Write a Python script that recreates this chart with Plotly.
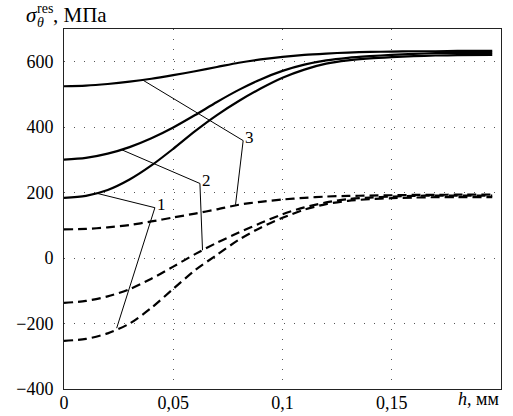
import plotly.graph_objects as go

# ---- data ----
h = [0, 0.01, 0.02, 0.03, 0.04, 0.05, 0.06, 0.07, 0.08, 0.09, 0.10,
     0.11, 0.12, 0.13, 0.14, 0.15, 0.16, 0.17, 0.18, 0.196]

solid_3 = [525, 527, 532, 539, 548, 559, 571, 584, 597, 607, 615,
           621, 625, 628, 630, 631, 632, 632, 633, 633]
solid_2 = [301, 306, 319, 339, 366, 399, 437, 477, 514, 546, 572,
           591, 604, 612, 617, 621, 624, 626, 627, 627]
solid_1 = [184, 190, 208, 240, 283, 334, 388, 437, 480, 518, 551,
           576, 594, 604, 610, 614, 617, 619, 620, 621]

dashed_3 = [88, 89, 94, 101, 112, 124, 136, 149, 163, 172, 179,
            184, 188, 190, 191, 192, 193, 193, 194, 194]
dashed_2 = [-137, -131, -117, -95, -63, -26, 12, 47, 78, 107, 134,
            155, 170, 180, 185, 188, 190, 191, 191, 191]
dashed_1 = [-253, -247, -230, -200, -152, -94, -37, 10, 56, 93, 123,
            148, 165, 175, 180, 183, 185, 186, 186, 186]

# leader lines: label junction, point on solid curve, point on dashed curve
labels = ["1", "2", "3"]
label_x = [0.0416, 0.0622, 0.0820]
label_y = [154, 228, 359]
solid_pt_x = [0.0150, 0.0264, 0.0363]
solid_pt_y = [198, 331, 543]
dashed_pt_x = [0.0241, 0.0634, 0.0785]
dashed_pt_y = [-214, 24, 163]

x_tickvals = [0, 0.05, 0.1, 0.15]
x_ticktext = ["0", "0,05", "0,1", "0,15"]
y_tickvals = [-400, -200, 0, 200, 400, 600]
y_ticktext = ["\u2212400", "\u2212200", "0", "200", "400", "600"]

FONT = "Liberation Serif, 'Liberation Serif', DejaVu Serif, serif"

fig = go.Figure()

for ys in (solid_3, solid_2, solid_1):
    fig.add_trace(go.Scatter(x=h, y=ys, mode="lines",
                             line=dict(color="black", width=2.2, shape="spline", smoothing=0.8),
                             showlegend=False, hoverinfo="skip"))
for ys in (dashed_3, dashed_2, dashed_1):
    fig.add_trace(go.Scatter(x=h, y=ys, mode="lines",
                             line=dict(color="black", width=2.2, dash="9px,5px",
                                       shape="spline", smoothing=0.8),
                             showlegend=False, hoverinfo="skip"))

for i in range(len(labels)):
    fig.add_trace(go.Scatter(
        x=[solid_pt_x[i], label_x[i], dashed_pt_x[i]],
        y=[solid_pt_y[i], label_y[i], dashed_pt_y[i]],
        mode="lines", line=dict(color="black", width=1),
        showlegend=False, hoverinfo="skip"))
    fig.add_annotation(x=label_x[i], y=label_y[i], text=labels[i],
                       showarrow=False, xanchor="left", yanchor="middle",
                       xshift=0, yshift=3, font=dict(family=FONT, size=17, color="black"))

# axis title pieces (stacked sub/superscript)
fig.add_annotation(xref="paper", yref="paper", x=0, y=1, xshift=-40, yshift=14,
                   text="<i>σ</i>", showarrow=False, xanchor="left", yanchor="middle",
                   font=dict(family=FONT, size=21, color="black"))
fig.add_annotation(xref="paper", yref="paper", x=0, y=1, xshift=-29, yshift=21,
                   text="res", showarrow=False, xanchor="left", yanchor="middle",
                   font=dict(family=FONT, size=14, color="black"))
fig.add_annotation(xref="paper", yref="paper", x=0, y=1, xshift=-29, yshift=7,
                   text="<i>θ</i>", showarrow=False, xanchor="left", yanchor="middle",
                   font=dict(family=FONT, size=14, color="black"))
fig.add_annotation(xref="paper", yref="paper", x=0, y=1, xshift=-13, yshift=14,
                   text=", МПа", showarrow=False, xanchor="left", yanchor="middle",
                   font=dict(family=FONT, size=21, color="black"))
fig.add_annotation(xref="paper", yref="paper", x=1, y=0, xshift=0, yshift=2,
                   text="<i>h</i>, мм", showarrow=False, xanchor="right", yanchor="top",
                   font=dict(family=FONT, size=18, color="black"))

axis_common = dict(showline=True, mirror=True, linecolor="#222", linewidth=1,
                   showgrid=True, gridcolor="#555", gridwidth=1, griddash="1px,9px",
                   zeroline=False, ticks="", automargin=False,
                   tickfont=dict(family=FONT, size=18, color="black"))

fig.update_xaxes(range=[0, 0.2], tickvals=x_tickvals, ticktext=x_ticktext,
                 ticklabelstandoff=-3, **axis_common)
fig.update_yaxes(range=[-400, 700], tickvals=y_tickvals, ticktext=y_ticktext,
                 ticklabelstandoff=6, **axis_common)

fig.update_layout(width=513, height=416, margin=dict(l=64, r=12, t=29, b=27),
                  plot_bgcolor="white", paper_bgcolor="white", showlegend=False,
                  font=dict(family=FONT))

fig.write_html("out.html", config={"displayModeBar": False},
               post_script="document.body.style.margin='0';document.body.style.padding='0';"
                           "document.body.style.overflow='hidden';")
